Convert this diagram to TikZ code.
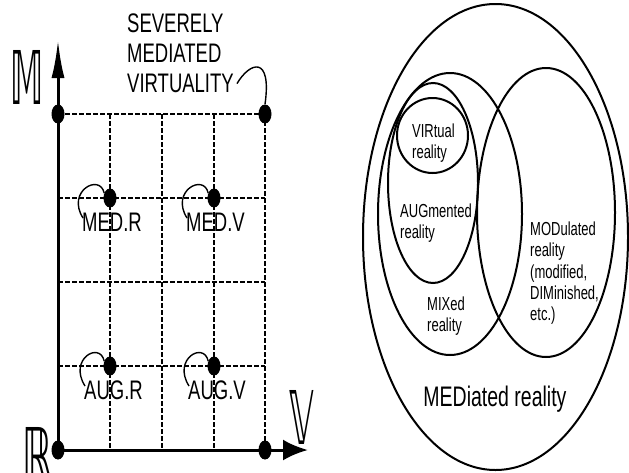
\documentclass[tikz,border=0pt]{standalone}
\usepackage{fontspec}
\setmainfont{Liberation Sans}
\newfontfamily\dsfont{DejaVu Sans}
\usetikzlibrary{arrows.meta,positioning,shapes.geometric}
\tikzset{
  dot/.style={ellipse,fill=black,inner sep=0pt,
    minimum width=13pt,minimum height=19pt},
  gridline/.style={line width=1.5pt,dash pattern=on 4.5pt off 2.5pt},
  axis/.style={line width=3pt},
  hookline/.style={line width=1.4pt},
  setline/.style={line width=2pt},
  biglbl/.style={font=\fontsize{18.5}{20.7}\selectfont,
    yscale=1.45,inner sep=0pt,align=left},
  setlbl/.style={font=\fontsize{13}{14}\selectfont,
    yscale=1.45,inner sep=0pt,align=left},
  axlbl/.style={font=\dsfont\fontsize{38}{38}\selectfont,
    yscale=1.95,inner sep=0pt}
}

\begin{document}
\begin{tikzpicture}[x=1pt,y=-1pt]
\path[use as bounding box,fill=white] (0,0) rectangle (629,472);

% dashed grid
\draw[gridline] (58,114) -- (265,114);
\draw[gridline] (58,198) -- (265,198);
\draw[gridline] (58,282) -- (265,282);
\draw[gridline] (58,366) -- (265,366);
\draw[gridline] (110,114) -- (110,450);
\draw[gridline] (162,114) -- (162,450);
\draw[gridline] (214,114) -- (214,450);
\draw[gridline] (265,114) -- (265,450);

\coordinate (mtip) at (58,40);
\coordinate (vtip) at (308,450);

\node[dot] (orig) at (58,450) {};
\node[dot] (tl) at (58,114) {};
\node[dot] (tr) at (265,114) {};
\node[dot] (br) at (265,450) {};
\node[dot] (medr) at (110,198) {};
\node[dot] (medv) at (214,198) {};
\node[dot] (augr) at (110,366) {};
\node[dot] (augv) at (214,366) {};

\draw[axis,-{Latex[length=38pt,width=13pt]}] (orig.center) -- (mtip);
\draw[axis,-{Latex[length=25pt,width=21pt]}] (orig.center) -- (vtip);

\node[axlbl,xscale=0.85] (lm) at (27.5,77) {𝕄};
\node[axlbl] (lr) at (37.5,454) {ℝ};
\node[axlbl,xscale=0.9] (lv) at (301.5,417.5) {𝕍};

\node[biglbl,anchor=north west] (sev) at (127,13)
  {SEVERELY\\MEDIATED\\VIRTUALITY};
\node[biglbl,anchor=west] (medr-l) at ([shift={(-28,24)}]medr) {MED.R};
\node[biglbl,anchor=west] (medv-l) at ([shift={(-28,24)}]medv) {MED.V};
\node[biglbl,anchor=west] (augr-l) at ([shift={(-26,24)}]augr) {AUG.R};
\node[biglbl,anchor=west] (augv-l) at ([shift={(-26,24)}]augv) {AUG.V};

\draw[hookline] ([shift={(3,-9)}]sev.south east)
  .. controls ([shift={(16,-31)}]sev.south east)
  and ([shift={(7,-59)}]tr) .. (tr.north);
\draw[hookline] (medr.140) .. controls ([shift={(-10,-25)}]medr)
  and ([shift={(-44,-7)}]medr) .. ([shift={(1,-4)}]medr-l.west);
\draw[hookline] (medv.140) .. controls ([shift={(-10,-25)}]medv)
  and ([shift={(-44,-7)}]medv) .. ([shift={(1,-4)}]medv-l.west);
\draw[hookline] (augr.140) .. controls ([shift={(-10,-25)}]augr)
  and ([shift={(-42,-7)}]augr) .. ([shift={(1,-4)}]augr-l.west);
\draw[hookline] (augv.140) .. controls ([shift={(-10,-25)}]augv)
  and ([shift={(-42,-7)}]augv) .. ([shift={(1,-4)}]augv-l.west);

% sets
\draw[setline] (495.5,237) ellipse [x radius=132.5, y radius=233];
\draw[setline] (546,212.5) ellipse [x radius=69, y radius=144.5];
\draw[setline] (450,214) ellipse [x radius=72, y radius=141];
\draw[setline] (433,183) ellipse [x radius=45, y radius=100];
\draw[setline] (432.5,135.5) ellipse [x radius=35.5, y radius=37.5];

\node[setlbl,anchor=north west] (vir) at (412,124) {VIRtual\\reality};
\node[setlbl,anchor=north west] (aug) at (400,204) {AUGmented\\reality};
\node[setlbl,anchor=north west] (mix) at (427,297) {MIXed\\reality};
\node[setlbl,anchor=north west,font=\fontsize{13}{14.5}\selectfont] (mod)
  at (530,222) {MODulated\\reality\\(modified,\\DIMinished,\\etc.)};
\node[font=\fontsize{19.5}{20}\selectfont,yscale=1.45,inner sep=0pt] (med)
  at (495,399) {MEDiated reality};
\end{tikzpicture}
\end{document}
